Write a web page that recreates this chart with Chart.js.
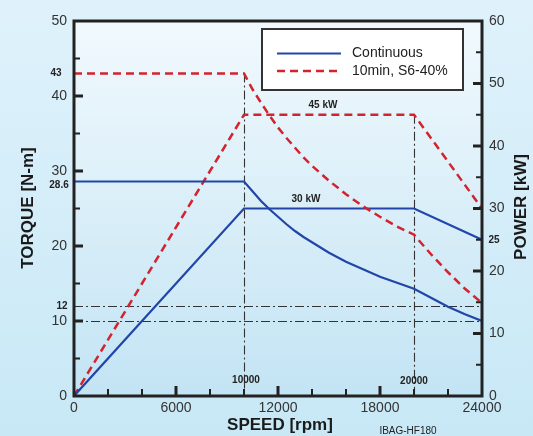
<!DOCTYPE html>
<html>
<head>
<meta charset="utf-8">
<script src="https://cdn.jsdelivr.net/npm/chart.js@4/dist/chart.umd.min.js"></script>
<style>
html,body{margin:0;padding:0;background:#d4edf9;}
#wrap{width:533px;height:436px;}
</style>
</head>
<body>
<div id="wrap"><canvas id="c" width="533" height="436"></canvas></div>
<script>
// ---- data ----
const speedTorque = [0, 10000, 10500, 11000, 11500, 12000, 12500, 13000, 13500, 14000, 15000, 16000, 17000, 18000, 19000, 20000, 21000, 22000, 23000, 24000];
const torqueContinuous = [28.6, 28.6, 27.3, 26.0, 24.9, 23.9, 22.9, 22.0, 21.2, 20.5, 19.1, 17.9, 16.9, 15.9, 15.1, 14.3, 13.1, 11.9, 10.9, 10.0];
const torqueS6 = [43, 43, 40.9, 39.1, 37.4, 35.8, 34.4, 33.1, 31.8, 30.7, 28.7, 26.9, 25.3, 23.9, 22.6, 21.5, 18.9, 16.5, 14.3, 12.4];
const speedPower = [0, 10000, 20000, 24000];
const powerContinuous = [0, 30, 30, 25];
const powerS6 = [0, 45, 45, 30];
const refTorqueLines = [12, 10];
const refSpeedLines = [10000, 20000];
const refSpeedTopTorque = [43, null];
const refSpeedTopPower = [null, 45];
const torqueTickLabels = [0, 10, 20, 30, 40, 50];
const powerTickLabels = [0, 10, 20, 30, 40, 50, 60];
const speedTickLabels = [0, 6000, 12000, 18000, 24000];
const legendLabels = ['Continuous', '10min, S6-40%'];

const BLUE = '#2146a8';
const RED = '#d2232e';
const INK = '#222222';
const FONT = '"Liberation Sans", Arial, Helvetica, sans-serif';

function pts(xs, ys){ return xs.map((x,i)=>({x:x, y:ys[i]})); }

const decor = {
  id: 'decor',
  beforeDraw(chart){
    const {ctx, chartArea:a, width, height} = chart;
    ctx.save();
    let g = ctx.createLinearGradient(0,0,0,height);
    g.addColorStop(0,'#dff2fb'); g.addColorStop(1,'#c8e8f6');
    ctx.fillStyle = g; ctx.fillRect(0,0,width,height);
    g = ctx.createLinearGradient(0,a.top,0,a.bottom);
    g.addColorStop(0,'#f1f9fd'); g.addColorStop(1,'#c3e4f4');
    ctx.fillStyle = g; ctx.fillRect(a.left,a.top,a.right-a.left,a.bottom-a.top);
    ctx.restore();
  },
  beforeDatasetsDraw(chart){
    const {ctx, chartArea:a, scales} = chart;
    const x = scales.x, y = scales.y, y2 = scales.y2;
    ctx.save();
    ctx.strokeStyle = '#333';
    ctx.lineWidth = 1.1;
    ctx.setLineDash([9,3,2,3]);
    refTorqueLines.forEach(v=>{
      const py = Math.round(y.getPixelForValue(v))+0.5;
      ctx.beginPath(); ctx.moveTo(a.left,py); ctx.lineTo(a.right,py); ctx.stroke();
    });
    refSpeedLines.forEach((s,i)=>{
      const px = Math.round(x.getPixelForValue(s))+0.5;
      const top = refSpeedTopTorque[i]!=null ? y.getPixelForValue(refSpeedTopTorque[i]) : y2.getPixelForValue(refSpeedTopPower[i]);
      ctx.beginPath(); ctx.moveTo(px,top); ctx.lineTo(px,a.bottom); ctx.stroke();
    });
    ctx.restore();
  },
  afterDraw(chart){
    const {ctx, chartArea:a, scales} = chart;
    const x = scales.x, y = scales.y, y2 = scales.y2;
    ctx.save();
    // inward ticks
    ctx.strokeStyle = INK;
    for(let v=5; v<50; v+=5){
      const major = v%10===0;
      const py = y.getPixelForValue(v);
      ctx.lineWidth = major?3:2;
      ctx.beginPath(); ctx.moveTo(a.left,py); ctx.lineTo(a.left+(major?9:6),py); ctx.stroke();
    }
    for(let v=5; v<60; v+=5){
      const major = v%10===0;
      const py = y2.getPixelForValue(v);
      ctx.lineWidth = major?3:2;
      ctx.beginPath(); ctx.moveTo(a.right,py); ctx.lineTo(a.right-(major?9:6),py); ctx.stroke();
    }
    for(let v=2000; v<24000; v+=2000){
      const major = v%6000===0;
      const px = x.getPixelForValue(v);
      ctx.lineWidth = major?3:2;
      ctx.beginPath(); ctx.moveTo(px,a.bottom); ctx.lineTo(px,a.bottom-(major?10:7)); ctx.stroke();
    }
    // frame
    ctx.lineWidth = 3;
    ctx.strokeStyle = INK;
    ctx.beginPath();
    ctx.moveTo(a.left,a.top); ctx.lineTo(a.right,a.top); ctx.lineTo(a.right,a.bottom);
    ctx.lineTo(a.left,a.bottom); ctx.closePath(); ctx.stroke();

    // legend
    const lx=262, ly=29, lw=201, lh=61;
    ctx.fillStyle='#ffffff'; ctx.fillRect(lx,ly,lw,lh);
    ctx.lineWidth=2; ctx.strokeStyle='#333'; ctx.strokeRect(lx,ly,lw,lh);
    ctx.lineWidth=2.2; ctx.strokeStyle=BLUE; ctx.setLineDash([]);
    ctx.beginPath(); ctx.moveTo(277,53.5); ctx.lineTo(341,53.5); ctx.stroke();
    ctx.lineWidth=2.5; ctx.strokeStyle=RED; ctx.setLineDash([8,5]);
    ctx.beginPath(); ctx.moveTo(277,71); ctx.lineTo(341,71); ctx.stroke();
    ctx.setLineDash([]);
    ctx.fillStyle='#222'; ctx.font='14px '+FONT; ctx.textAlign='left'; ctx.textBaseline='middle';
    ctx.fillText(legendLabels[0],352,53);
    ctx.fillText(legendLabels[1],352,71);

    // small bold annotations
    ctx.font='bold 10px '+FONT; ctx.fillStyle='#222'; ctx.textBaseline='middle';
    ctx.textAlign='center';
    ctx.fillText('43',56,y.getPixelForValue(43));
    ctx.fillText('28.6',59,185);
    ctx.fillText('12',62,y.getPixelForValue(12));
    ctx.fillText('25',494,y2.getPixelForValue(25));
    ctx.fillText('10000',246,380);
    ctx.fillText('20000',414,381);
    ctx.fillText('45 kW',323,105);
    ctx.fillText('30 kW',306,199);
    ctx.font='10px '+FONT;
    ctx.fillText('IBAG-HF180',408,431);

    // axis titles
    ctx.font='bold 17px '+FONT; ctx.fillStyle='#1a1a1a';
    ctx.fillText('SPEED [rpm]',280,425);
    ctx.save(); ctx.translate(28,208); ctx.rotate(-Math.PI/2); ctx.fillText('TORQUE [N-m]',0,0); ctx.restore();
    ctx.save(); ctx.translate(521,207); ctx.rotate(-Math.PI/2); ctx.fillText('POWER [kW]',0,0); ctx.restore();
    ctx.restore();
  }
};

const tickFont = {family: FONT, size: 14};
const noGrid = {display: false, drawTicks: false, tickLength: 0};

new Chart(document.getElementById('c'), {
  type: 'line',
  data: {
    datasets: [
      {label: legendLabels[0]+' torque', data: pts(speedTorque, torqueContinuous), yAxisID:'y', borderColor: BLUE, borderWidth: 2.2, pointRadius: 0, tension: 0, fill:false},
      {label: legendLabels[1]+' torque', data: pts(speedTorque, torqueS6), yAxisID:'y', borderColor: RED, borderWidth: 2.5, borderDash:[8,5], pointRadius: 0, tension: 0, fill:false},
      {label: legendLabels[0]+' power', data: pts(speedPower, powerContinuous), yAxisID:'y2', borderColor: BLUE, borderWidth: 2.2, pointRadius: 0, fill:false},
      {label: legendLabels[1]+' power', data: pts(speedPower, powerS6), yAxisID:'y2', borderColor: RED, borderWidth: 2.5, borderDash:[8,5], pointRadius: 0, fill:false}
    ]
  },
  options: {
    responsive: false,
    animation: false,
    devicePixelRatio: 1,
    layout: {padding: {top: 21, left: 0, right: 0, bottom: 0}},
    plugins: {legend: {display: false}, tooltip: {enabled: false}},
    scales: {
      x: {
        type: 'linear', min: 0, max: 24000,
        afterBuildTicks(s){ s.ticks = speedTickLabels.map(v=>({value:v})); },
        afterFit(s){ s.height = 40; },
        grid: noGrid, border: {display: false},
        ticks: {font: tickFont, color: '#333', padding: 4, maxRotation: 0, callback: v=>String(v)}
      },
      y: {
        position: 'left', min: 0, max: 50,
        afterBuildTicks(s){ s.ticks = torqueTickLabels.map(v=>({value:v})); },
        afterFit(s){ s.width = 74; },
        grid: noGrid, border: {display: false},
        ticks: {font: tickFont, color: '#333', padding: 7}
      },
      y2: {
        position: 'right', min: 0, max: 60,
        afterBuildTicks(s){ s.ticks = powerTickLabels.map(v=>({value:v})); },
        afterFit(s){ s.width = 51; },
        grid: noGrid, border: {display: false},
        ticks: {font: tickFont, color: '#333', padding: 7}
      }
    }
  },
  plugins: [decor]
});
</script>
</body>
</html>
